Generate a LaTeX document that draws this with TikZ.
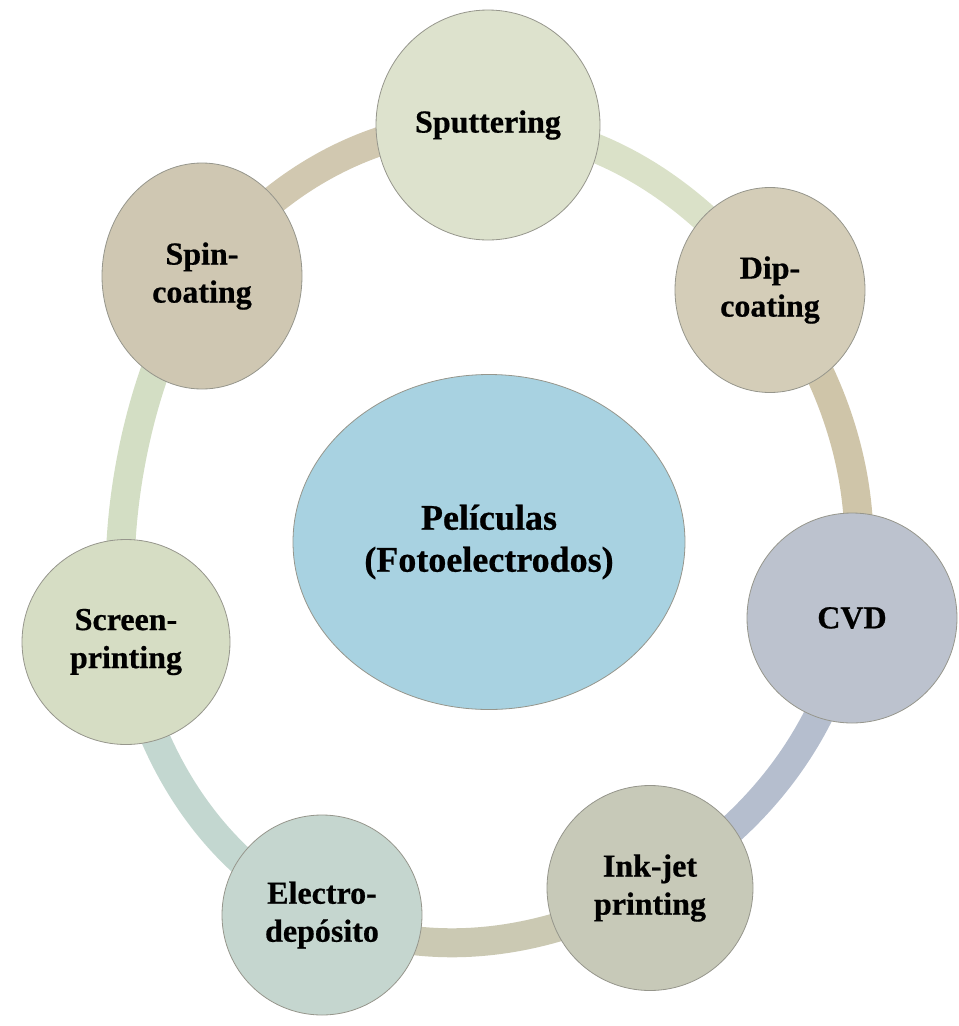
\documentclass[tikz,border=0pt]{standalone}
\usepackage{fontspec}
\setmainfont[BoldFeatures={FakeBold=0.6}]{Liberation Serif}
\usetikzlibrary{shapes.geometric,backgrounds}

% fills of the discs
\definecolor{sputfill}{RGB}{221,226,205}
\definecolor{dipfill}{RGB}{212,205,184}
\definecolor{cvdfill}{RGB}{188,194,206}
\definecolor{inkfill}{RGB}{199,201,184}
\definecolor{elecfill}{RGB}{197,214,207}
\definecolor{screenfill}{RGB}{214,221,196}
\definecolor{spinfill}{RGB}{207,199,178}
\definecolor{hubfill}{RGB}{168,210,225}
\definecolor{discline}{RGB}{150,150,140}
% colours of the ring segments
\definecolor{bandS}{RGB}{218,225,200}
\definecolor{bandD}{RGB}{207,197,169}
\definecolor{bandC}{RGB}{181,190,206}
\definecolor{bandI}{RGB}{203,201,179}
\definecolor{bandE}{RGB}{195,215,208}
\definecolor{bandR}{RGB}{211,222,196}
\definecolor{bandP}{RGB}{209,200,176}

\begin{document}
\begin{tikzpicture}[x=1pt,y=-1pt,
  disc/.style={ellipse, draw=discline, line width=0.8pt, inner sep=0pt,
    font=\bfseries\fontsize{32}{38}\selectfont, align=center},
  hub/.style={ellipse, draw=discline, line width=0.8pt, inner sep=0pt,
    fill=hubfill, font=\bfseries\fontsize{36}{42}\selectfont, align=center},
  band/.style={line width=29pt, looseness=0.9}]
\useasboundingbox (0,0) rectangle (959,1026);

% the seven techniques
\node[disc, fill=sputfill, minimum width=224pt, minimum height=230pt] (sput) at (488,125) {Sputtering};
\node[disc, fill=dipfill, minimum width=190pt, minimum height=205pt] (dip) at (770,290) {Dip-\\coating};
\node[disc, fill=cvdfill, minimum width=210pt, minimum height=210pt] (cvd) at (852,618) {CVD};
\node[disc, fill=inkfill, minimum width=206pt, minimum height=205pt] (ink) at (650,888) {Ink-jet\\printing};
\node[disc, fill=elecfill, minimum width=200pt, minimum height=200pt] (elec) at (322,915) {Electro-\\depósito};
\node[disc, fill=screenfill, minimum width=208pt, minimum height=205pt] (screen) at (126,642) {Screen-\\printing};
\node[disc, fill=spinfill, minimum width=200pt, minimum height=226pt] (spin) at (202,276) {Spin-\\coating};

% the centre
\node[hub, minimum width=392pt, minimum height=335pt] (hub) at (489,542) {Películas\\(Fotoelectrodos)};

% ring joining the discs
\begin{scope}[on background layer]
\draw[band, bandS] (sput.center) to[out=-1.7, in=126.6] (dip.center);
\draw[band, bandD] (dip.center) to[out=-53.4, in=78.9] (cvd.center);
\draw[band, bandC] (cvd.center) to[out=-101.1, in=29.4] (ink.center);
\draw[band, bandI] (ink.center) to[out=209.4, in=-24.8] (elec.center);
\draw[band, bandE] (elec.center) to[out=155.2, in=-79.5] (screen.center);
\draw[band, bandR, looseness=0.75] (screen.center) to[out=100.5, in=234.7] (spin.center);
\draw[band, bandP] (spin.center) to[out=54.7, in=178.3] (sput.center);
\end{scope}
\end{tikzpicture}
\end{document}
